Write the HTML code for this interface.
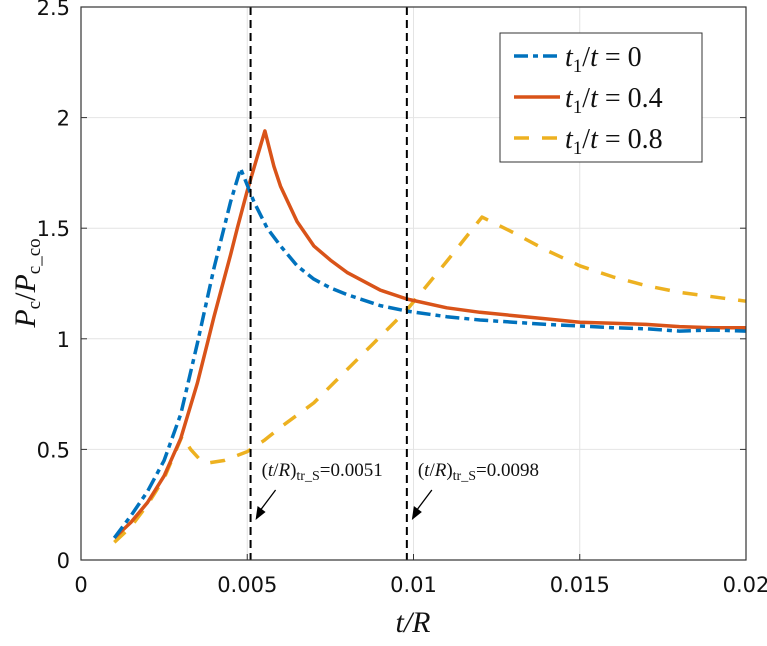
<!DOCTYPE html>
<html><head><meta charset="utf-8"><style>
body{margin:0;background:#fff;width:767px;height:641px;overflow:hidden}
svg{font-family:"DejaVu Sans","Liberation Sans",sans-serif}
.tk{font-size:21px;fill:#111}
.ser{font-family:"Liberation Serif",serif}
</style></head><body>
<svg id="chart" width="767" height="641">
<g id="grid"></g>
<g id="series"></g>
<g id="axes"></g>
</svg>
<script>
const xTicks=[0,0.005,0.01,0.015,0.02];
const xTickLabels=["0","0.005","0.01","0.015","0.02"];
const yTicks=[0,0.5,1,1.5,2,2.5];
const yTickLabels=["0","0.5","1","1.5","2","2.5"];
const blueX=[0.001,0.0015,0.002,0.0025,0.003,0.0035,0.004,0.0045,0.0048,0.0052,0.0056,0.006,0.0065,0.007,0.0075,0.008,0.009,0.0098,0.011,0.012,0.013,0.014,0.015,0.016,0.017,0.018,0.019,0.02];
const blueY=[0.1,0.2,0.31,0.45,0.66,0.98,1.32,1.62,1.77,1.62,1.5,1.42,1.33,1.27,1.23,1.2,1.15,1.125,1.1,1.085,1.075,1.065,1.058,1.05,1.045,1.035,1.04,1.035];
const redX=[0.001,0.0015,0.002,0.0025,0.003,0.0035,0.0038,0.004,0.0045,0.0047,0.005,0.00553,0.0058,0.006,0.0065,0.007,0.0075,0.008,0.009,0.0098,0.011,0.012,0.013,0.014,0.015,0.016,0.017,0.018,0.019,0.02];
const redY=[0.1,0.17,0.26,0.38,0.55,0.8,0.98,1.1,1.38,1.5,1.67,1.94,1.78,1.69,1.53,1.42,1.356,1.3,1.22,1.18,1.14,1.12,1.105,1.09,1.075,1.07,1.065,1.055,1.05,1.05];
const yelX=[0.001,0.0015,0.002,0.0025,0.00304,0.0033,0.0036,0.00388,0.0043,0.005,0.0055,0.006,0.007,0.0078,0.0088,0.0098,0.011,0.01206,0.013,0.014,0.015,0.016,0.017,0.018,0.0195,0.02];
const yelY=[0.08,0.15,0.25,0.37,0.56,0.5,0.45,0.44,0.45,0.49,0.54,0.6,0.71,0.83,0.98,1.13,1.35,1.55,1.48,1.4,1.33,1.28,1.24,1.21,1.18,1.17];
const vLines=[0.0051,0.0098];
const vLabels=["0.0051","0.0098"];

const L=81,R=746,T=7,B=560;
const sx=v=>L+v/0.02*(R-L);
const sy=v=>B-v/2.5*(B-T);
const NS="http://www.w3.org/2000/svg";
function mk(tag,attrs,parent){const e=document.createElementNS(NS,tag);for(const k in attrs)e.setAttribute(k,attrs[k]);parent.appendChild(e);return e;}
const grid=document.getElementById('grid'),ser=document.getElementById('series'),ax=document.getElementById('axes');

xTicks.forEach((t,i)=>{
  if(i>0&&i<xTicks.length-1){const g=mk('line',{x1:sx(t),x2:sx(t),y1:T,y2:B,stroke:'#e4e4e4','stroke-width':1},grid);
  
  }
  const tk=mk('line',{x1:sx(t),x2:sx(t),y1:B,y2:B-6,stroke:'#333'},ax);
  
  
  const tx=mk('text',{x:sx(t),y:B+32,'text-anchor':'middle',class:'tk'},ax);tx.textContent=xTickLabels[i];
  
  
});
yTicks.forEach((t,i)=>{
  if(i>0&&i<yTicks.length-1){const g=mk('line',{x1:L,x2:R,y1:sy(t),y2:sy(t),stroke:'#e4e4e4','stroke-width':1},grid);
  
  }
  const tk=mk('line',{x1:L,x2:L+6,y1:sy(t),y2:sy(t),stroke:'#333'},ax);
  
  
  const tk2=mk('line',{x1:R,x2:R-6,y1:sy(t),y2:sy(t),stroke:'#333'},ax);
  
  
  const tx=mk('text',{x:L-11,y:sy(t)+8,'text-anchor':'end',class:'tk'},ax);tx.textContent=yTickLabels[i];
  
  
});
const frame=mk('rect',{x:L,y:T,width:R-L,height:B-T,fill:'none',stroke:'#333','stroke-width':1.2},ax);



function line(xs,ys,color,dash,name){
  const d=xs.map((x,i)=>(i?'L':'M')+sx(x).toFixed(1)+','+sy(ys[i]).toFixed(1)).join('');
  const p=mk('path',{d:d,fill:'none',stroke:color,'stroke-width':3.5,'stroke-dasharray':dash,'stroke-linejoin':'round'},ser);
  
  
}
line(yelX,yelY,'#EDB120','15,13','series-t1t-0.8');
line(redX,redY,'#D95319','none','series-t1t-0.4');
line(blueX,blueY,'#0072BD','14,5,5,5','series-t1t-0');

vLines.forEach((v,i)=>{
  const l=mk('line',{x1:sx(v),x2:sx(v),y1:T,y2:B,stroke:'#000','stroke-width':2,'stroke-dasharray':'8,5'},ser);
  
  
  const x=sx(v);
  const t=mk('text',{x:x+11,y:476,class:'ser','font-size':19,fill:'#111'},ser);
  t.innerHTML='(<tspan font-style="italic">t</tspan>/<tspan font-style="italic">R</tspan>)<tspan font-size="14" dy="4">tr_S</tspan><tspan dy="-4">='+vLabels[i]+'</tspan>';
  
  
  const a=mk('line',{x1:x+25,y1:490,x2:x+10,y2:510,stroke:'#000','stroke-width':1.3},ser);
  
  
  const h=mk('polygon',{points:`${x+5},${520} ${x+7},${506} ${x+15},${512}`,fill:'#000'},ser);
  
  
});

const lg=mk('g',{},ax);


mk('rect',{x:500,y:33,width:202,height:129,fill:'#fff',stroke:'#333','stroke-width':1},lg);
const ents=[['#0072BD','14,5,5,5','0'],['#D95319','none','0.4'],['#EDB120','15,13','0.8']];
ents.forEach((e,i)=>{
  const y=56+i*41;
  mk('line',{x1:514,x2:560,y1:y,y2:y,stroke:e[0],'stroke-width':3.5,'stroke-dasharray':e[1]},lg);
  const t=mk('text',{x:565,y:y+10,class:'ser','font-size':28,fill:'#111'},lg);
  t.innerHTML='<tspan font-style="italic">t</tspan><tspan font-size="19" dy="6">1</tspan><tspan dy="-6">/</tspan><tspan font-style="italic">t</tspan> = '+e[2];
  
  
});
</script>
<svg style="position:absolute;left:0;top:0" width="767" height="641">
<text x="413" y="632" text-anchor="middle" font-family="Liberation Serif,serif" font-size="30" font-style="italic" fill="#111">t/R</text>
<text transform="translate(35,283) rotate(-90)" text-anchor="middle" font-family="Liberation Serif,serif" font-size="30" fill="#111"><tspan font-style="italic">P</tspan><tspan font-size="19" dy="5">c</tspan><tspan dy="-5">/</tspan><tspan font-style="italic">P</tspan><tspan font-size="19" dy="5">c_co</tspan></text>
</svg>
</body></html>
